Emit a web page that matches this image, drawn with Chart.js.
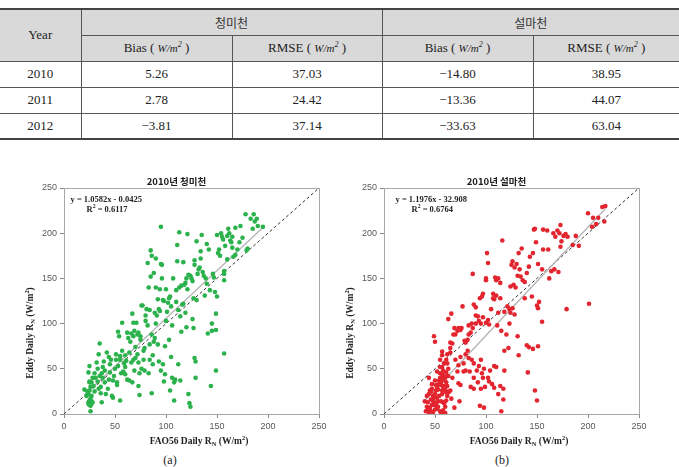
<!DOCTYPE html>
<html>
<head>
<meta charset="utf-8">
<script src="https://cdn.jsdelivr.net/npm/chart.js@4.4.1/dist/chart.umd.min.js"></script>
<style>
  body { margin: 0; width: 679px; height: 467px; background: #fff; position: relative; overflow: hidden; font-family: 'Liberation Serif', serif; }
  #tbl { position: absolute; left: 0; top: 8px; width: 679px; border-collapse: collapse; table-layout: fixed; color: #222; font-size: 13px; }
  #tbl tr { height: 26px; }
  #tbl td { padding: 0; text-align: center; border: 1px solid #555; }
  #tbl .h td { background: #d9d9d9; }
  #tbl .first td { border-top: 2px solid #444; }
  #tbl .last td { border-bottom: 2px solid #444; }
  #tbl td.l { border-left: none; }
  #tbl td.r { border-right: none; }
  #tbl .ko { font-family: 'Noto Sans CJK KR', sans-serif; font-size: 12px; color: #333; }
  #tbl i { font-size: 11px; }
  #tbl sup { font-size: 8px; }
  canvas { position: absolute; }
  .cap { position: absolute; top: 453px; width: 40px; text-align: center; font-size: 12px; color: #222; }
</style>
</head>
<body>
<table id="tbl">
  <colgroup><col style="width:81px"><col style="width:151px"><col style="width:150px"><col style="width:151px"><col style="width:146px"></colgroup>
  <tbody id="tbody"></tbody>
</table>
<canvas id="c1" width="310" height="290" style="left:20px;top:160px"></canvas>
<canvas id="c2" width="310" height="290" style="left:340px;top:160px"></canvas>
<div class="cap" style="left:150px">(a)</div>
<div class="cap" style="left:482px">(b)</div>
<script>
// Table values
const years = ['2010', '2011', '2012'];
const siteNames = ['청미천', '설마천'];
const cheongmiBias = [5.26, 2.78, -3.81];
const cheongmiRmse = [37.03, 24.42, 37.14];
const seolmaBias = [-14.80, -13.36, -33.63];
const seolmaRmse = [38.95, 44.07, 63.04];

// Scatter plot values (FAO56 Rn, Eddy Rn)
const axisTicks = [0, 50, 100, 150, 200, 250];
const chartTitles = ['2010년 청미천', '2010년 설마천'];
const cheongmiFit = [1.0582, -0.0425, 0.6117];
const seolmaFit = [1.1976, -32.908, 0.6764];

const cheongmiPts = [
  [20,27],[22,20],[24,13],[25,10],[25,12],[26,9],[25,15],[27,11],[26,17],[24,22],[25,26],[26,30],[27,35],[25,36],
  [24,46],[25,53],[28,40],[30,25],[30,45],[29,31],[26,3],[25,35],[23,25],[27,20],[28,13],[26,12],[24,11],[27,14],
  [32,57],[33,50],[34,66],[35,78],[33,36],[35,42],[37,45],[38,40],[37,13],[36,30],[40,48],[40,35],[41,22],[42,68],
  [44,63],[45,55],[45,46],[46,60],[47,20],[48,18],[43,28],[38,52],[36,23],[50,50],[49,42],[48,37],[31,40],[34,28],
  [39,58],[44,38],
  [52,32],[52,35],[53,91],[54,86],[55,60],[55,15],[55,64],[56,45],[58,47],[58,46],[57,101],[60,52],[60,44],[60,65],
  [62,90],[63,84],[64,37],[65,80],[66,57],[67,35],[67,111],[68,101],[68,60],[69,48],[70,62],[70,74],[51,60],[51,66],
  [53,53],[57,70],[59,56],[61,59],[62,38],[64,68],[66,89],[68,86],[69,92],
  [71,101],[72,88],[72,66],[73,90],[73,57],[73,31],[74,21],[74,45],[75,86],[75,82],[76,120],[77,120],[78,60],[78,70],
  [79,48],[80,109],[80,103],[81,116],[82,98],[82,167],[83,140],[84,115],[84,77],[85,181],[85,152],[86,175],[86,88],
  [86,23],[87,55],[87,65],[88,80],[88,156],[89,112],[89,84],[90,100],[90,172],[90,140],[79,73],[76,50],[84,60],[83,45],
  [91,109],[92,77],[92,127],[93,116],[94,114],[94,138],[95,207],[95,166],[96,165],[96,150],[97,126],[97,55],[98,125],
  [98,36],[99,44],[100,138],[100,103],[101,113],[102,123],[103,128],[104,130],[104,26],[105,63],[105,119],[106,40],
  [107,150],[108,15],[108,35],[109,38],[110,124],[110,137],[111,187],[111,169],[112,115],[112,55],[106,98],[103,82],
  [99,75],[93,58],[95,48],
  [113,201],[113,140],[114,108],[115,142],[116,121],[117,122],[118,143],[119,145],[120,150],[120,96],[121,199],
  [121,138],[122,154],[122,22],[123,12],[124,153],[124,8],[125,150],[126,147],[127,95],[127,128],[128,170],[128,165],
  [128,62],[129,58],[129,40],[130,191],[130,126],[131,155],[117,168],[119,112],[114,37],[126,105],[115,91],
  [132,160],[133,162],[134,180],[135,198],[136,157],[137,153],[138,131],[140,188],[140,144],[141,89],[142,182],
  [143,137],[144,31],[145,92],[145,100],[146,155],[147,151],[148,135],[149,111],[149,48],[149,93],[150,198],[150,130],
  [134,172],[139,150],
  [151,178],[152,182],[153,175],[154,200],[155,196],[156,193],[157,67],[157,158],[157,155],[157,148],[158,186],
  [160,197],[160,171],[161,205],[162,200],[163,192],[164,190],[165,196],[165,184],[166,174],[168,176],[168,206],
  [170,182],
  [172,190],[173,208],[175,195],[178,221],[179,181],[180,183],[183,216],[186,221],[187,213],[189,216],[190,208],
  [195,207],[185,205]
];

const seolmaPts = [
  [214,229],[217,230],[200,222],[205,217],[210,217],[216,213],[208,210],[204,207],[191,186],[188,197],[185,187],
  [178,199],[180,196],[176,197],[172,200],[173,209],[170,203],[168,196],[174,191],[173,185],[166,200],[160,203],
  [161,182],[156,204],[156,182],[148,205],[147,204],[149,190],[143,174],[142,163],[146,178],[164,158],[167,160],
  [171,157],[162,150],[155,160],[151,166],[135,183],[132,178],[130,166],[128,162],[125,165],[126,169],[140,156],
  [138,146],[134,152],[136,148],[129,140],[124,141],[127,143],[121,119],[123,116],[126,117],[124,112],[128,110],
  [131,86],[132,65],[122,73],[118,70],[115,92],[111,98],[112,112],[114,128],[110,131],[110,148],[109,151],[112,150],
  [114,145],[116,192],[107,133],[107,128],[108,127],[101,178],[102,167],[100,150],[100,148],[97,133],[96,130],[94,128],
  [90,118],[92,108],[93,103],[95,100],[97,107],[105,116],[102,104],[100,101],[103,99],[88,121],[87,155],[90,100],
  [90,109],[87,95],[85,90],[83,88],[83,98],[86,100],[82,82],[79,81],[80,79],[77,119],[76,95],[75,93],[73,95],[72,92],
  [70,88],[68,88],[69,95],[66,111],[63,105],[65,79],[67,78],[65,73],[65,68],[62,66],[61,60],[57,65],[57,69],[55,60],
  [57,52],[49,86],[50,80],[59,56],[62,56],[63,50],[67,40],[63,42],[62,31],[61,35],[65,26],[66,17],[69,7],[74,14],
  [75,32],[73,34],[78,47],[78,56],[80,48],[80,66],[83,62],[82,70],[75,63],[73,54],[72,47],[70,60],[86,60],[88,56],
  [88,40],[91,48],[93,53],[95,60],[96,45],[97,40],[98,50],[92,35],[95,28],[99,30],[88,28],[85,30],[84,47],[94,9],
  [98,7],[102,40],[103,36],[106,33],[108,29],[104,48],[108,53],[110,52],[112,22],[114,31],[117,28],[118,48],[117,16],
  [115,3],[120,88],[118,113],[123,100],[133,160],[131,153],[150,120],[151,117],[152,124],[146,72],[142,74],[140,76],
  [141,46],[148,26],[150,15],[151,75],[155,102],[179,116],[201,122],[145,130],[138,128],
  [40,14],[41,3],[42,8],[43,5],[44,2],[45,7],[46,3],[47,10],[45,26],[44,40],[46,25],[47,28],[48,20],[48,15],[49,18],
  [49,13],[50,10],[50,22],[51,26],[51,12],[52,18],[52,30],[53,27],[53,14],[54,33],[54,37],[55,40],[55,45],[56,32],
  [56,35],[57,40],[57,44],[58,42],[58,48],[59,38],[59,31],[60,40],[60,27],[61,24],[61,46],[62,42],[62,20],[63,24],
  [64,25],[55,3],[56,1],[58,4],[60,1],[52,6],[50,5],[48,2],[51,32],[53,8],[54,20],[57,22],[56,14],[59,12],[46,16],
  [43,13],[47,33],[50,37],[52,47],[55,52],[57,26],[58,30],[60,8],[61,15],[44,22],[42,20],[58,13]
];

// Build the table
const fmt = v => (v < 0 ? '−' + Math.abs(v).toFixed(2) : v.toFixed(2));
const unit = '( <i>W/m<sup>2</sup></i> )';
let html = '';
html += `<tr class="h first"><td class="l" rowspan="2">Year</td><td colspan="2" class="ko">${siteNames[0]}</td><td colspan="2" class="ko r">${siteNames[1]}</td></tr>`;
html += `<tr class="h"><td>Bias ${unit}</td><td>RMSE ${unit}</td><td>Bias ${unit}</td><td class="r">RMSE ${unit}</td></tr>`;
years.forEach((y, i) => {
  const cls = i === years.length - 1 ? ' class="last"' : '';
  html += `<tr${cls}><td class="l">${y}</td><td>${fmt(cheongmiBias[i])}</td><td>${fmt(cheongmiRmse[i])}</td>` +
          `<td>${fmt(seolmaBias[i])}</td><td class="r">${fmt(seolmaRmse[i])}</td></tr>`;
});
document.getElementById('tbody').innerHTML = html;

// text with sub/superscripts: parts = [text, 0 normal | 1 sub | 2 sup]
function richText(ctx, parts, x, y, size, center) {
  const fontFor = s => `bold ${s}px "Liberation Serif"`;
  let w = 0;
  parts.forEach(p => { ctx.font = fontFor(p[1] ? size * 0.68 : size); w += ctx.measureText(p[0]).width; });
  let cx = center ? x - w / 2 : x;
  ctx.textAlign = 'left';
  ctx.textBaseline = 'alphabetic';
  parts.forEach(p => {
    const s = p[1] ? size * 0.68 : size;
    ctx.font = fontFor(s);
    const dy = p[1] === 1 ? size * 0.22 : (p[1] === 2 ? -size * 0.38 : 0);
    ctx.fillText(p[0], cx, y + dy);
    cx += ctx.measureText(p[0]).width;
  });
}

const decor = {
  id: 'decor',
  beforeDatasetsDraw(chart) {
    const { ctx, chartArea: a } = chart;
    ctx.save();
    ctx.strokeStyle = '#a8a8a8';
    ctx.lineWidth = 1;
    ctx.strokeRect(Math.round(a.left) + 0.5, Math.round(a.top) + 0.5, Math.round(a.right - a.left), Math.round(a.bottom - a.top));
    ctx.restore();
  },
  afterDraw(chart, args, o) {
    const ctx = chart.ctx;
    ctx.save();
    ctx.fillStyle = '#222';
    ctx.font = 'bold 9.5px "Noto Sans CJK KR"';
    ctx.textAlign = 'center';
    ctx.textBaseline = 'middle';
    ctx.fillText(o.title, 156.5, 21.5);
    // regression equation
    richText(ctx, [[o.eq, 0]], o.eqX, 42, 8.5, false);
    richText(ctx, [['R', 0], ['2', 2], [' = ' + o.r2, 0]], o.eqX + 16, 51.5, 8.5, false);
    // axis titles
    richText(ctx, [['FAO56 Daily R', 0], ['N', 1], [' (W/m', 0], ['2', 2], [')', 0]], 179, 284, 9.5, true);
    ctx.translate(13, 173);
    ctx.rotate(-Math.PI / 2);
    richText(ctx, [['Eddy Daily R', 0], ['N', 1], [' (W/m', 0], ['2', 2], [')', 0]], 0, 0, 9.5, true);
    ctx.restore();
  }
};

function makeChart(id, pts, fit, color, title, eqX) {
  const xs = pts.map(p => p[0]);
  const x0 = Math.min(...xs), x1 = Math.max(...xs);
  const sign = fit[1] < 0 ? ' - ' : ' + ';
  const scaleOpts = (isX) => ({
    type: 'linear',
    min: 0,
    max: 250,
    afterBuildTicks: s => { s.ticks = axisTicks.map(v => ({ value: v })); },
    afterFit: s => { if (isX) s.height = 24; else s.width = 36; },
    ticks: { color: '#595959', font: { family: 'Liberation Sans', size: 9 }, padding: 3, maxRotation: 0, autoSkip: false },
    grid: { drawOnChartArea: false, drawTicks: true, tickLength: 4, color: '#8a8a8a' },
    border: { display: false }
  });
  return new Chart(document.getElementById(id), {
    type: 'scatter',
    data: {
      datasets: [
        {
          data: pts.map(p => ({ x: p[0], y: p[1] })),
          backgroundColor: color,
          borderWidth: 0,
          pointRadius: 2.3,
          pointStyle: 'circle'
        },
        {
          type: 'line',
          data: [{ x: x0, y: fit[0] * x0 + fit[1] }, { x: x1, y: fit[0] * x1 + fit[1] }],
          borderColor: '#b4b4b4',
          borderWidth: 1.3,
          pointRadius: 0,
          fill: false
        },
        {
          type: 'line',
          data: [{ x: 0, y: 0 }, { x: 250, y: 250 }],
          borderColor: '#333',
          borderWidth: 1,
          borderDash: [3, 2.5],
          pointRadius: 0,
          fill: false
        }
      ]
    },
    options: {
      responsive: false,
      animation: false,
      layout: { padding: { left: 8, right: 11, top: 28, bottom: 12 } },
      scales: { x: scaleOpts(true), y: scaleOpts(false) },
      plugins: {
        legend: { display: false },
        tooltip: { enabled: false },
        decor: {
          title: title,
          eq: 'y = ' + fit[0] + 'x' + sign + Math.abs(fit[1]),
          r2: fit[2].toFixed(4),
          eqX: eqX
        }
      }
    },
    plugins: [decor]
  });
}

makeChart('c1', cheongmiPts, cheongmiFit, '#2cb24c', chartTitles[0], 50.5);
makeChart('c2', seolmaPts, seolmaFit, '#e3252f', chartTitles[1], 55.5);
</script>
</body>
</html>
